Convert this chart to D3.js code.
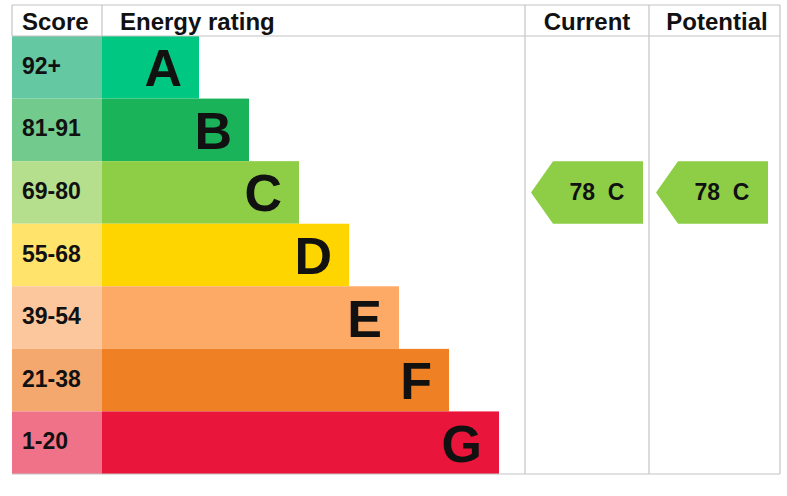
<!DOCTYPE html>
<html><head><meta charset="utf-8">
<script src="https://cdn.jsdelivr.net/npm/d3@7"></script>
<style>body{margin:0;background:#fff}svg{display:block}text{font-family:"Liberation Sans",Arial,sans-serif;font-weight:bold}</style>
</head><body><svg id="c" width="787" height="496"></svg>
<script>
const bands = ["A","B","C","D","E","F","G"];
const scoreLabels = ["92+","81-91","69-80","55-68","39-54","21-38","1-20"];
const barLength = [1,2,3,4,5,6,7];
const barColors = ["#00c781","#1bb35a","#8dce46","#ffd500","#fcaa65","#ef8023","#e9153b"];
const scoreColors = ["#64c8a2","#72cb8d","#b5df8d","#ffe36b","#fdc79d","#f4a86d","#f07289"];
const headers = ["Score","Energy rating","Current","Potential"];
const currentRating = {value:78, band:"C"};
const potentialRating = {value:78, band:"C"};

const svg = d3.select("#c");
const L=12, T=5, R=780, H=36, B=474;
const xScore = 102, xEnd = 525, xCur = 649;
const y = d3.scaleBand().domain(bands).range([H,B]).padding(0);
const w = d3.scaleLinear().domain([1,7]).range([199, 499]);
const grid = "#c4c4c4";

// score + bars
bands.forEach((b,i)=>{
  svg.append("rect").attr("x",L).attr("y",y(b)).attr("width",xScore-L).attr("height",y.bandwidth()).attr("fill",scoreColors[i]);
  svg.append("rect").attr("x",xScore).attr("y",y(b)).attr("width",w(barLength[i])-xScore).attr("height",y.bandwidth()).attr("fill",barColors[i]);
  svg.append("text").attr("x",22).attr("y",y(b)+y.bandwidth()/2+6.5).attr("font-size",23).attr("fill","#111").text(scoreLabels[i]);
  svg.append("text").attr("x",w(barLength[i])-17).attr("y",y(b)+y.bandwidth()/2+19).attr("text-anchor","end").attr("font-size",52).attr("fill","#111").text(b);
});

// grid lines
const line=(x1,y1,x2,y2)=>svg.append("line").attr("x1",x1).attr("y1",y1).attr("x2",x2).attr("y2",y2).attr("stroke",grid).attr("stroke-width",1.2);
line(L,T,R,T); line(L,T,L,H); line(xScore,T,xScore,H); line(L,H,R,H);
line(xEnd,T,xEnd,B); line(xCur,T,xCur,B); line(R,T,R,B); line(L,B,R,B);

// headers
const hx = [22,120,587,717];
const anchors = ["start","start","middle","middle"];
headers.forEach((h,i)=>svg.append("text").attr("x",hx[i]).attr("y",30).attr("font-size",24).attr("text-anchor",anchors[i]).attr("fill","#111").text(h));

// arrows
function arrow(left,right,r){
  const yy=y(r.band), hh=y.bandwidth(), tip=22;
  const col = barColors[bands.indexOf(r.band)];
  svg.append("path").attr("d",`M${left},${yy+hh/2}L${left+tip},${yy}L${right},${yy}L${right},${yy+hh}L${left+tip},${yy+hh}Z`).attr("fill",col);
  svg.append("text").attr("x",(left+tip+right)/2-1).attr("y",yy+hh/2+8).attr("text-anchor","middle").attr("font-size",23).attr("fill","#111").style("white-space","pre").text(r.value+"  "+r.band);
}
arrow(531,643,currentRating);
arrow(656,768,potentialRating);
</script></body></html>
